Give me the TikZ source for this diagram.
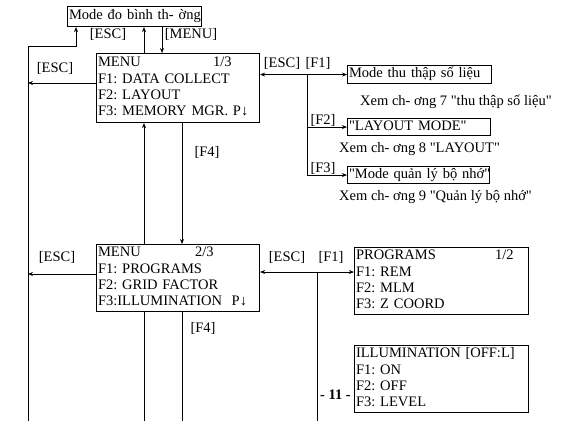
\documentclass[tikz,border=0pt]{standalone}
\usepackage{fontspec}
\setmainfont{Liberation Serif}[Ligatures=TeXOff]
\usetikzlibrary{arrows.meta}
\frenchspacing
\newcommand{\boxlines}[1]{\begin{tabular}{@{}l@{}}#1\end{tabular}}
\begin{document}
\begin{tikzpicture}[x=1pt,y=-1pt,
  txt/.style={font=\fontsize{14.5pt}{16.3pt}\selectfont},
  lbl/.style={txt,inner sep=0pt},
  box/.style={txt,draw,line width=1.1pt,anchor=north west,inner xsep=1.5pt,inner ysep=0pt,align=left},
  conn/.style={line width=0.9pt},
  arr/.style={conn,-{Stealth[length=5pt,width=4pt]}},
  darr/.style={conn,{Stealth[length=5pt,width=4pt]}-{Stealth[length=5pt,width=4pt]}}]
\useasboundingbox (0,0) rectangle (565,421);
% boxes
\node[box,minimum width=134pt,minimum height=20pt,text width=131pt] (normal) at (67,6) {\boxlines{Mode đo bình th- ờng}};
\node[box,minimum width=163pt,minimum height=69pt,text width=160pt] (m1) at (96,53)
  {\boxlines{\makebox[115pt][l]{MENU}1/3\\F1: DATA COLLECT\\F2: LAYOUT\\F3: MEMORY MGR. P↓}};
\node[box,minimum width=163pt,minimum height=67pt,text width=160pt] (m2) at (96,244)
  {\boxlines{\makebox[97pt][l]{MENU}2/3\\F1: PROGRAMS\\F2: GRID FACTOR\\F3:ILLUMINATION\ \ P↓}};
\node[box,minimum width=144pt,minimum height=18pt,text width=141pt] (dc) at (347,65) {\boxlines{Mode thu thập số liệu}};
\node[box,minimum width=143pt,minimum height=17pt,text width=140pt] (lay) at (347,118) {\boxlines{"LAYOUT MODE"}};
\node[box,minimum width=142pt,minimum height=17pt,text width=139pt] (mem) at (347,166) {\boxlines{"Mode quản lý bộ nhớ"}};
\node[box,minimum width=174pt,minimum height=67pt,text width=171pt] (prog) at (354,247)
  {\boxlines{\makebox[139pt][l]{PROGRAMS}1/2\\F1: REM\\F2: MLM\\F3: Z COORD}};
\node[box,minimum width=174pt,minimum height=67pt,text width=171pt] (illum) at (354,345)
  {\boxlines{ILLUMINATION [OFF:L]\\F1: ON\\F2: OFF\\F3: LEVEL}};
% helper coordinates
\coordinate (bot) at (0,421);
\coordinate (cL) at (28,0);
\coordinate (elb) at (76,46);
\coordinate (cA) at (144,0);
\coordinate (cB) at (162,0);
\coordinate (cD) at (182,0);
\coordinate (r1) at (0,83);
\coordinate (r2) at (0,274);
\coordinate (r3) at (0,272);
\coordinate (br1) at (307,0);
\coordinate (br2) at (317,0);
% connectors
\draw[arr] (cL |- bot) |- (elb) -- (normal.south -| elb);
\draw[arr] (m1.north -| cA) -- (normal.south -| cA);
\draw[arr] (normal.south -| cB) -- (m1.north -| cB);
\draw[arr] (m1.west |- r1) -- (cL |- r1);
\draw[arr] (m2.north -| cA) -- (m1.south -| cA);
\draw[arr] (m1.south -| cD) -- (m2.north -| cD);
\draw[arr] (m2.west |- r2) -- (cL |- r2);
\draw[conn] (m2.south -| cA) -- (cA |- bot);
\draw[conn] (m2.south -| cD) -- (cD |- bot);
\draw[darr] (m1.east |- dc.west) -- (dc.west);
\draw[conn] (br1 |- dc.west) -- (br1 |- mem.west);
\draw[arr] (br1 |- lay.west) -- (lay.west);
\draw[arr] (br1 |- mem.west) -- (mem.west);
\draw[darr] (m2.east |- r3) -- (prog.west |- r3);
\draw[conn] (br2 |- r3) -- (br2 |- bot);
% labels
\node[lbl] (l1) at (108,34) {[ESC]};
\node[lbl] (l2) at (191,34) {[MENU]};
\node[lbl] (l3) at (55,68) {[ESC]};
\node[lbl] (l4) at (207,152) {[F4]};
\node[lbl] (l5) at (57,257) {[ESC]};
\node[lbl] (l6) at (203,328) {[F4]};
\node[lbl] (l7) at (282,63) {[ESC]};
\node[lbl] (l8) at (318,63) {[F1]};
\node[lbl] (l9) at (323,120) {[F2]};
\node[lbl] (l10) at (323,168) {[F3]};
\node[lbl] (l11) at (287,257) {[ESC]};
\node[lbl] (l12) at (331,257) {[F1]};
\node[lbl,anchor=west] (x7) at (360,102) {Xem ch- ơng 7 "thu thập số liệu"};
\node[lbl,anchor=west] (x8) at (339,149) {Xem ch- ơng 8 "LAYOUT"};
\node[lbl,anchor=west] (x9) at (339,197) {Xem ch- ơng 9 "Quản lý bộ nhớ"};
\node[lbl,anchor=west,font=\fontsize{14.5pt}{16.3pt}\selectfont\bfseries] (pg) at (320,395) {- 11 -};
\end{tikzpicture}
\end{document}
